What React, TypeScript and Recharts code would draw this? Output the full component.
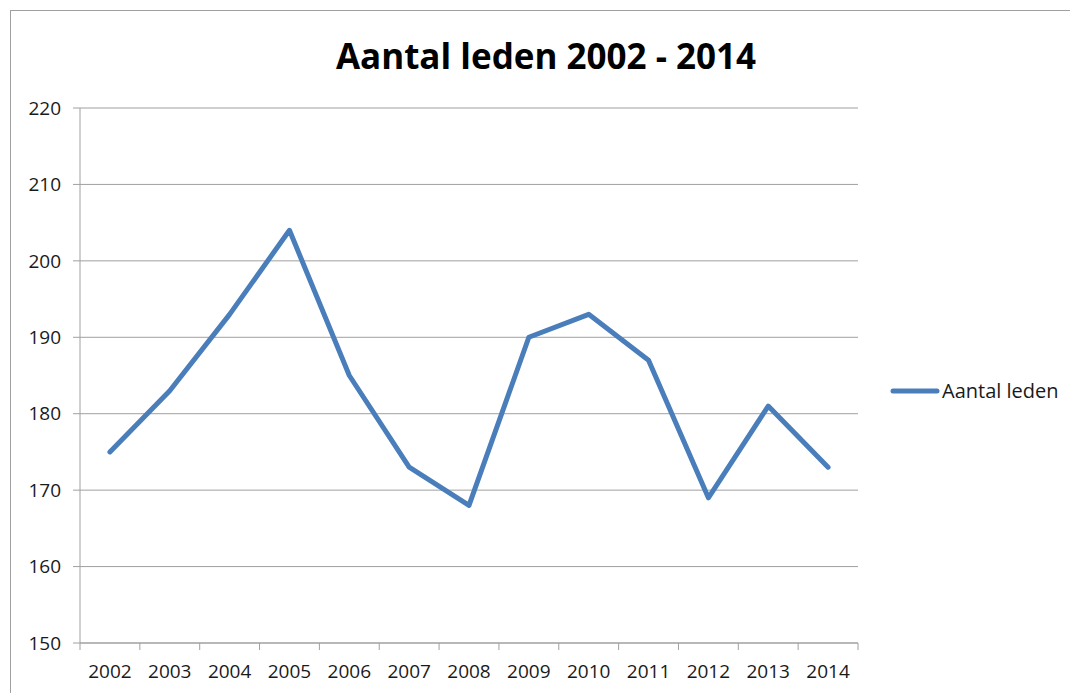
import { LineChart, Line, XAxis, YAxis, CartesianGrid } from 'recharts';

// jaren en aantal leden
const jaren = ['2002', '2003', '2004', '2005', '2006', '2007', '2008', '2009', '2010', '2011', '2012', '2013', '2014'];
const leden = [175, 183, 193, 204, 185, 173, 168, 190, 193, 187, 169, 181, 173];
const yTicks = [150, 160, 170, 180, 190, 200, 210, 220];
const serieNaam = 'Aantal leden';

const chartData = jaren.map((jaar, i) => ({ jaar, leden: leden[i] }));

const W = 1070;
const H = 693;
const PLOT_LEFT = 80;
const PLOT_RIGHT = 858;
const PLOT_TOP = 108;
const PLOT_BOTTOM = 643;
const HALF = (PLOT_RIGHT - PLOT_LEFT) / jaren.length / 2;
const FONT = '"Open Sans", sans-serif';
const GRAY = '#a0a0a0';
const BLUE = '#4a7ebb';

// tick met streepjes tussen de categorieën (zoals in Excel)
const XTick = ({ x, payload, index }: any) => {
  const last = index === jaren.length - 1;
  return (
    <g>
      <line x1={x - HALF} x2={x - HALF} y1={PLOT_BOTTOM} y2={PLOT_BOTTOM + 7} stroke={GRAY} strokeWidth={1} />
      {last && <line x1={x + HALF} x2={x + HALF} y1={PLOT_BOTTOM} y2={PLOT_BOTTOM + 7} stroke={GRAY} strokeWidth={1} />}
      <text x={x} y={678} textAnchor="middle" fontSize={19} fontFamily={FONT} fill="#1a1a1a">
        {payload.value}
      </text>
    </g>
  );
};

export default function App() {
  return (
    <div style={{ position: 'fixed', left: 0, top: 0, width: W, height: H, background: '#fff', overflow: 'hidden' }}>
      <div
        style={{
          position: 'absolute',
          left: 10,
          top: 10,
          width: W,
          height: H,
          borderLeft: `1.5px solid ${GRAY}`,
          borderTop: `1.5px solid ${GRAY}`,
        }}
      />
      <div
        style={{
          position: 'absolute',
          left: 10,
          width: 1072,
          top: 34,
          textAlign: 'center',
          fontFamily: FONT,
          fontWeight: 700,
          fontSize: 35,
          color: '#000',
          lineHeight: '44px',
        }}
      >
        Aantal leden 2002 - 2014
      </div>
      <LineChart
        width={W}
        height={H}
        data={chartData}
        margin={{ top: PLOT_TOP, right: W - PLOT_RIGHT, bottom: 0, left: 20 }}
        style={{ position: 'absolute', left: 0, top: 0 }}
      >
        <CartesianGrid vertical={false} stroke={GRAY} />
        <XAxis
          dataKey="jaar"
          padding={{ left: HALF, right: HALF }}
          tick={<XTick />}
          tickLine={false}
          axisLine={{ stroke: GRAY }}
          interval={0}
          height={H - PLOT_BOTTOM}
        />
        <YAxis
          width={PLOT_LEFT - 20}
          domain={[150, 220]}
          ticks={yTicks}
          tickSize={7}
          tickMargin={12}
          tickLine={{ stroke: GRAY }}
          axisLine={{ stroke: GRAY }}
          tick={{ fontSize: 19, fontFamily: FONT, fill: '#1a1a1a' }}
          interval={0}
        />
        <Line
          type="linear"
          dataKey="leden"
          name={serieNaam}
          stroke={BLUE}
          strokeWidth={5}
          strokeLinejoin="round"
          strokeLinecap="round"
          dot={false}
          isAnimationActive={false}
        />
      </LineChart>
      <div
        style={{
          position: 'absolute',
          left: 890,
          top: 377,
          display: 'flex',
          alignItems: 'center',
          fontFamily: FONT,
          fontSize: 20,
          color: '#1a1a1a',
        }}
      >
        <svg width={50} height={8} style={{ marginRight: 2 }}>
          <line x1={3} x2={47} y1={4} y2={4} stroke={BLUE} strokeWidth={5} strokeLinecap="round" />
        </svg>
        <span>{serieNaam}</span>
      </div>
    </div>
  );
}
